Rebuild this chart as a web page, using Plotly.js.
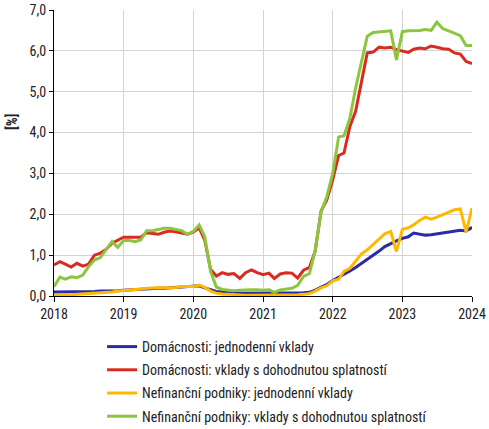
<!DOCTYPE html>
<html>
<head>
<meta charset="utf-8">
<script src="https://cdn.plot.ly/plotly-3.0.1.min.js"></script>
<style>
html,body{margin:0;padding:0;background:#fff;}
#chart{width:489px;height:429px;}
</style>
</head>
<body>
<div id="chart"></div>
<script>
var startMonth = "2018-01";
var monthCount = 73;

var seriesNames = [
  "Domácnosti: jednodenní vklady",
  "Domácnosti: vklady s dohodnutou splatností",
  "Nefinanční podniky: jednodenní vklady",
  "Nefinanční podniky: vklady s dohodnutou splatností"
];

var domJednodenni = [0.10,0.10,0.10,0.10,0.10,0.10,0.10,0.11,0.12,0.12,0.12,0.13,
  0.14,0.15,0.15,0.16,0.17,0.18,0.19,0.19,0.20,0.21,0.22,0.22,
  0.23,0.25,0.20,0.15,0.11,0.10,0.08,0.07,0.07,0.07,0.07,0.07,
  0.07,0.07,0.07,0.07,0.07,0.07,0.07,0.08,0.09,0.14,0.22,0.28,
  0.38,0.46,0.52,0.61,0.70,0.80,0.90,0.98,1.10,1.21,1.29,1.35,
  1.41,1.45,1.54,1.52,1.49,1.50,1.52,1.54,1.56,1.59,1.61,1.59,
  1.68];

var domSplatnost = [0.76,0.84,0.78,0.71,0.80,0.73,0.78,1.00,1.05,1.14,1.29,1.36,
  1.44,1.44,1.44,1.44,1.55,1.53,1.51,1.56,1.59,1.57,1.54,1.51,
  1.56,1.67,1.37,0.65,0.49,0.57,0.53,0.55,0.43,0.57,0.64,0.57,
  0.52,0.56,0.43,0.54,0.57,0.56,0.44,0.63,0.70,1.10,2.08,2.35,
  2.84,3.44,3.50,4.15,4.52,5.25,5.95,5.97,6.09,6.07,6.09,6.03,
  6.00,5.96,6.04,6.07,6.05,6.12,6.09,6.05,6.04,5.95,5.92,5.74,
  5.69];

var nfpJednodenni = [0.02,0.02,0.02,0.03,0.04,0.05,0.05,0.06,0.07,0.09,0.10,0.12,
  0.13,0.15,0.16,0.17,0.19,0.20,0.20,0.20,0.20,0.21,0.23,0.23,
  0.23,0.27,0.21,0.12,0.07,0.05,0.04,0.03,0.02,0.02,0.02,0.02,
  0.02,0.02,0.02,0.02,0.02,0.02,0.03,0.04,0.06,0.12,0.20,0.25,
  0.37,0.41,0.60,0.68,0.84,1.03,1.13,1.27,1.39,1.52,1.58,1.09,
  1.63,1.67,1.74,1.85,1.93,1.88,1.93,1.99,2.05,2.11,2.13,1.56,
  2.15];

var nfpSplatnost = [0.23,0.46,0.41,0.47,0.45,0.51,0.72,0.88,0.94,1.13,1.33,1.19,
  1.36,1.36,1.33,1.37,1.60,1.60,1.63,1.66,1.66,1.63,1.60,1.51,
  1.58,1.74,1.45,0.60,0.22,0.16,0.15,0.13,0.14,0.15,0.15,0.15,
  0.14,0.15,0.09,0.15,0.17,0.19,0.26,0.48,0.55,1.12,2.05,2.43,
  3.00,3.89,3.92,4.35,5.09,5.74,6.36,6.45,6.46,6.47,6.49,5.78,
  6.47,6.49,6.49,6.50,6.52,6.50,6.70,6.54,6.49,6.43,6.37,6.13,
  6.13];

var colors = ["#2B2BA8", "#D92B1F", "#FFB800", "#8CC63E"];

var months = [];
(function(){
  var y = parseInt(startMonth.slice(0,4),10), m = parseInt(startMonth.slice(5,7),10);
  for (var k = 0; k < monthCount; k++) {
    months.push(y + "-" + (m < 10 ? "0" + m : m) + "-01");
    m++; if (m > 12) { m = 1; y++; }
  }
})();

var FONT = "'Roboto Condensed', 'Liberation Sans Narrow', 'Arial Narrow', 'DejaVu Sans Condensed', Roboto, sans-serif";

var allSeries = [domJednodenni, domSplatnost, nfpJednodenni, nfpSplatnost];
var traces = allSeries.map(function(vals, k){
  return {
    type: "scatter", mode: "lines",
    x: months, y: vals, name: seriesNames[k],
    legendgroup: "g" + k,
    line: {color: colors[k], width: 3},
    hoverinfo: "skip"
  };
});

var layout = {
  width: 489, height: 429,
  margin: {l: 54, r: 17, t: 10, b: 133, autoexpand: false},
  paper_bgcolor: "#fff", plot_bgcolor: "#fff",
  separators: ",.",
  font: {family: FONT, size: 14, color: "#222"},
  showlegend: true,
  legend: {
    orientation: "v", x: 0.115, xanchor: "left",
    yref: "container", y: 1 - 331/429, yanchor: "top",
    font: {family: FONT, size: 14, color: "#222"},
    tracegroupgap: 2, bgcolor: "rgba(0,0,0,0)"
  },
  xaxis: {
    type: "date",
    range: ["2018-01-01", "2024-01-01"],
    dtick: "M12", tick0: "2018-01-01", tickformat: "%Y",
    showgrid: true, gridcolor: "#d3d3d3", gridwidth: 1,
    showline: true, linecolor: "#000", linewidth: 1,
    ticks: "outside", ticklen: 5, tickcolor: "#000",
    tickfont: {family: FONT, size: 14, color: "#222"},
    zeroline: false, fixedrange: true, automargin: false
  },
  yaxis: {
    range: [0, 7], dtick: 1, tickformat: ".1f",
    showgrid: true, gridcolor: "#d3d3d3", gridwidth: 1,
    showline: true, linecolor: "#000", linewidth: 1,
    ticks: "outside", ticklen: 4, tickcolor: "#000",
    tickfont: {family: FONT, size: 14, color: "#222"},
    zeroline: false, fixedrange: true, automargin: false
  },
  annotations: [{
    text: "<b>[%]</b>", xref: "paper", yref: "paper",
    x: -42/418, y: (296-122)/286, xanchor: "center", yanchor: "middle",
    textangle: -90, showarrow: false,
    font: {family: FONT, size: 14, color: "#222"}
  }]
};

Plotly.newPlot("chart", traces, layout, {displayModeBar: false, staticPlot: true});
</script>
</body>
</html>
